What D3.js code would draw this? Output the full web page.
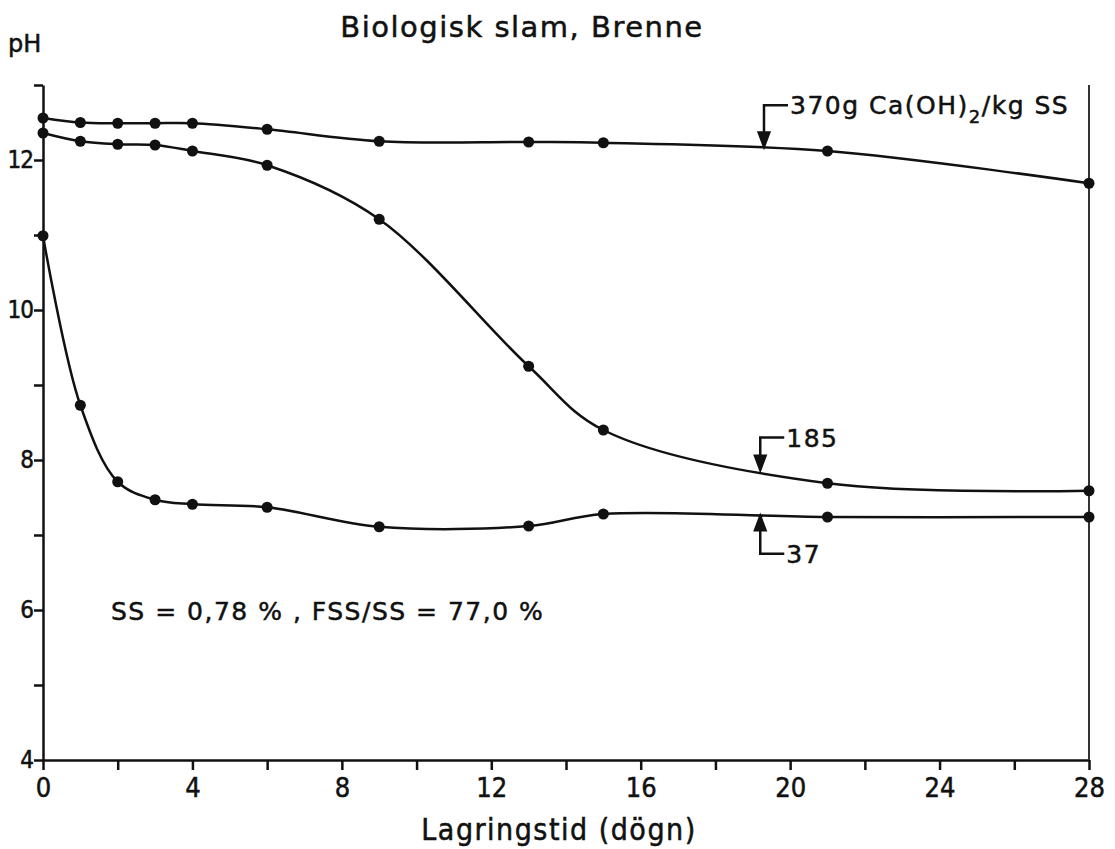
<!DOCTYPE html>
<html>
<head>
<meta charset="utf-8">
<title>Biologisk slam, Brenne</title>
<script src="https://cdn.jsdelivr.net/npm/d3@7"></script>
<style>
  body { margin: 0; background: #fff; }
  text { fill: #111; stroke: #111; stroke-width: 0.5px; }
  .cond { font-family: "DejaVu Sans Condensed", "DejaVu Sans", sans-serif; font-stretch: condensed; }
  .lett { font-family: "DejaVu Sans", sans-serif; }
</style>
</head>
<body>
<div id="chart"></div>
<script>
// storage time (days) where pH was measured
const days = [0, 1, 2, 3, 4, 6, 9, 13, 15, 21, 28];
// pH per lime dose (g Ca(OH)2 / kg SS)
const ph370 = [12.56, 12.50, 12.49, 12.49, 12.49, 12.41, 12.25, 12.24, 12.23, 12.12, 11.69];
const ph185 = [12.36, 12.25, 12.21, 12.20, 12.12, 11.93, 11.21, 9.25, 8.40, 7.69, 7.59];
const ph37  = [10.99, 8.73, 7.71, 7.47, 7.41, 7.37, 7.11, 7.12, 7.28, 7.24, 7.24];

const xTicks = [0, 2, 4, 6, 8, 10, 12, 14, 16, 18, 20, 22, 24, 26, 28];
const yTicks = [4, 5, 6, 7, 8, 9, 10, 11, 12, 13];

// annotation arrows: day, pH at tip, pH at corner
const labels = [
  { text: "370g Ca(OH)", sub: "2", rest: "/kg SS", day: 19.3, tip: 12.16, corner: 12.73 },
  { text: "185", day: 19.2, tip: 7.85, corner: 8.3 },
  { text: "37", day: 19.2, tip: 7.27, corner: 6.75 }
];

const width = 1115, height = 849;
const svg = d3.select("#chart").append("svg")
  .attr("width", width).attr("height", height);

const x = d3.scaleLinear().domain([0, 28]).range([43, 1089]);
const y = d3.scaleLinear().domain([4, 13]).range([760, 85]);

// title and labels
svg.append("text").attr("class", "lett")
  .attr("x", 522).attr("y", 37).attr("text-anchor", "middle")
  .style("font-size", "29px").style("letter-spacing", "1.5px")
  .text("Biologisk slam, Brenne");

svg.append("text").attr("class", "lett")
  .attr("x", 8).attr("y", 52)
  .style("font-size", "24px")
  .text("pH");

svg.append("text").attr("class", "cond")
  .attr("x", 559).attr("y", 840).attr("text-anchor", "middle")
  .style("font-size", "30px").style("letter-spacing", "1.5px")
  .text("Lagringstid (dögn)");

svg.append("text").attr("class", "lett")
  .attr("x", 111).attr("y", 620)
  .style("font-size", "25px").style("letter-spacing", "1.5px")
  .text("SS = 0,78 % ,  FSS/SS = 77,0 %");

// axes
const xAxis = d3.axisBottom(x)
  .tickValues(xTicks)
  .tickFormat(d => d % 4 === 0 ? d : "")
  .tickSize(10).tickSizeOuter(0).tickPadding(8);

const yAxis = d3.axisLeft(y)
  .tickValues(yTicks)
  .tickFormat(d => d % 2 === 0 ? d : "")
  .tickSize(9).tickSizeOuter(0).tickPadding(1);

const gx = svg.append("g")
  .attr("transform", "translate(0," + y(4) + ")")
  .call(xAxis);

const gy = svg.append("g")
  .attr("transform", "translate(" + x(0) + ",0)")
  .call(yAxis);

[gx, gy].forEach(function(g) {
  g.attr("font-family", null);
  g.select(".domain").attr("stroke", "#111").attr("stroke-width", 2.5);
  g.selectAll(".tick line").attr("stroke", "#111").attr("stroke-width", 2.5);
  g.selectAll(".tick text").attr("class", "cond").attr("fill", "#111");
});
gx.selectAll(".tick text").style("font-size", "27px");
gy.selectAll(".tick text").style("font-size", "24px").style("letter-spacing", "-1px");

// right frame line
svg.append("line")
  .attr("x1", x(28)).attr("x2", x(28))
  .attr("y1", y(13)).attr("y2", y(4))
  .attr("stroke", "#333").attr("stroke-width", 2);

// curves
const series = [ph370, ph185, ph37].map(vals => days.map((d, i) => ({ day: d, ph: vals[i] })));

const line = d3.line()
  .x(d => x(d.day))
  .y(d => y(d.ph))
  .curve(d3.curveCatmullRom.alpha(0.5));

const groups = svg.selectAll(".serie")
  .data(series)
  .enter().append("g");

groups.append("path")
  .attr("d", d => line(d))
  .attr("fill", "none")
  .attr("stroke", "#111")
  .attr("stroke-width", 2.5);

groups.selectAll("circle")
  .data(d => d)
  .enter().append("circle")
  .attr("cx", d => x(d.day))
  .attr("cy", d => y(d.ph))
  .attr("r", 5.5)
  .attr("fill", "#111");

// label arrows
labels.forEach(function(l) {
  const ax = x(l.day), tipY = y(l.tip), cY = y(l.corner);
  const dir = tipY > cY ? 1 : -1;
  svg.append("path")
    .attr("d", "M" + (ax + 24) + "," + cY + "H" + ax + "V" + (tipY - dir * 6))
    .attr("fill", "none").attr("stroke", "#111").attr("stroke-width", 2.5);
  svg.append("path")
    .attr("d", "M" + (ax - 6) + "," + (tipY - dir * 16) + "L" + ax + "," + tipY + "L" + (ax + 6) + "," + (tipY - dir * 16) + "Z")
    .attr("fill", "#111").attr("stroke", "#111").attr("stroke-width", 1.5);
  const t = svg.append("text").attr("class", "lett")
    .attr("x", ax + 26).attr("y", cY + 9)
    .style("font-size", "25px").style("letter-spacing", "1.5px");
  t.append("tspan").text(l.text);
  if (l.sub) {
    t.append("tspan").attr("dy", 9).style("font-size", "18px").text(l.sub);
    t.append("tspan").attr("dy", -9).text(l.rest);
  }
});
</script>
</body>
</html>
